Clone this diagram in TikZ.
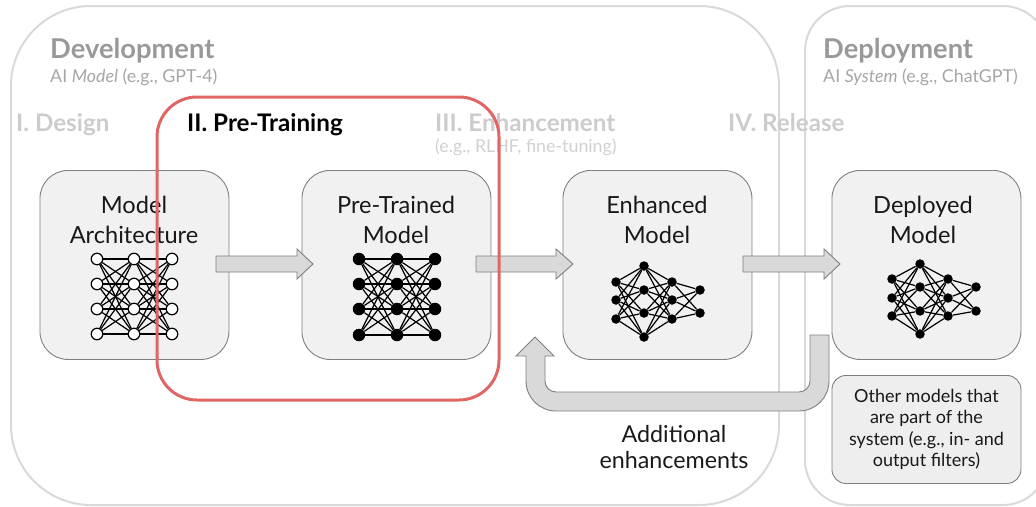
\documentclass[tikz,border=0pt]{standalone}
\usepackage{fontspec}
\setmainfont{Lato}
\definecolor{framegray}{HTML}{D9D9D9}
\definecolor{boxfill}{HTML}{F1F1F1}
\definecolor{otherfill}{HTML}{EEEEEE}
\definecolor{boxline}{HTML}{7F7F7F}
\definecolor{arrowfill}{HTML}{D9D9D9}
\definecolor{headgray}{HTML}{999999}
\definecolor{stagegray}{HTML}{CCCCCC}
\definecolor{subgray}{HTML}{A6A6A6}
\definecolor{palegray}{HTML}{D0D0D0}
\definecolor{redframe}{HTML}{E06666}
\tikzset{
  framebox/.style={draw=framegray,line width=2pt},
  modelbox/.style={draw=boxline,fill=boxfill,line width=0.9pt,rounded corners=28pt,minimum width=189pt,minimum height=189pt,inner sep=0pt,anchor=north west},
  otherbox/.style={draw=boxline,fill=otherfill,line width=0.9pt,rounded corners=14pt,minimum width=189pt,minimum height=108pt,inner sep=0pt,anchor=north west,align=center,font=\fontsize{18}{21.6}\selectfont,text=black!90},
  boxlabel/.style={align=center,font=\fontsize{23.6}{30}\selectfont,text=black!90,anchor=center},
  stagehead/.style={font=\bfseries\fontsize{24.2}{26}\selectfont,text=stagegray,anchor=base west,inner sep=0pt},
  phasehead/.style={font=\bfseries\fontsize{27.3}{30}\selectfont,text=headgray,anchor=base west,inner sep=0pt},
  subnote/.style={font=\fontsize{17.8}{20}\selectfont,text=subgray,anchor=base west,inner sep=0pt},
  blockarrow/.style={draw=boxline,fill=arrowfill,line width=0.9pt,line join=miter},
  openneuron/.style={circle,draw=black,fill=white,line width=1.2pt,minimum size=11.5pt,inner sep=0pt},
  solidneuron/.style={circle,fill=black,minimum size=12.5pt,inner sep=0pt},
  smallneuron/.style={circle,fill=black,minimum size=9.5pt,inner sep=0pt},
  synapse/.style={draw=black,line width=1.2pt},
}
\begin{document}
\begin{tikzpicture}[x=1pt,y=-1pt]
\useasboundingbox (0,0) rectangle (1036,506);
% frames
\draw[framebox,rounded corners=80pt] (11,6) rectangle (779,505);
\draw[framebox,rounded corners=45pt] (805,6) rectangle (1048,505);
% model boxes
\node[modelbox] (arch) at (39.5,170) {};
\node[modelbox] (pre) at (301.5,170) {};
\node[modelbox] (enh) at (562.5,170) {};
\node[modelbox] (dep) at (831.5,170) {};
\node[otherbox] (other) at (831.5,375) {Other models that\\are part of the\\system (e.g., in- and\\output filters)};
\node[boxlabel] (archl) at (134,219.7) {Model\\Architecture};
\node[boxlabel] (prel) at (396,219.7) {Pre-Trained\\Model};
\node[boxlabel] (enhl) at (657,219.7) {Enhanced\\Model};
\node[boxlabel] (depl) at (923,219.7) {Deployed\\Model};
% block arrows
\draw[blockarrow] (216,256) -- (297,256) -- (297,249) -- (313,264) -- (297,279) -- (297,272) -- (216,272) -- cycle;
\draw[blockarrow] (476,256) -- (556,256) -- (556,249) -- (573,264) -- (556,279) -- (556,272) -- (476,272) -- cycle;
\draw[blockarrow] (743,256) -- (824,256) -- (824,249) -- (840,264) -- (824,279) -- (824,272) -- (743,272) -- cycle;
\draw[blockarrow] (810,335) -- (829,335) -- (829,381) arc[start angle=0,end angle=90,radius=30] -- (556,411) arc[start angle=90,end angle=180,radius=30] -- (526,356) -- (516,356) -- (535,337) -- (554,356) -- (545,356) -- (545,381) arc[start angle=180,end angle=90,radius=11] -- (799,392) arc[start angle=90,end angle=0,radius=11] -- cycle;
% net 1
\foreach \c/\x in {1/97,2/134,3/172}
  \foreach \r/\y in {1/259,2/284,3/309,4/334}
    \node[openneuron] (a\c\r) at (\x,\y) {};
\foreach \c/\d in {1/2,2/3}
  \foreach \r in {1,2,3,4}
    \foreach \s in {1,2,3,4}
      \draw[synapse] (a\c\r) -- (a\d\s);
% net 2
\foreach \c/\x in {1/359,2/397,3/435}
  \foreach \r/\y in {1/259,2/284,3/309,4/335}
    \node[solidneuron] (b\c\r) at (\x,\y) {};
\foreach \c/\d in {1/2,2/3}
  \foreach \r in {1,2,3,4}
    \foreach \s in {1,2,3,4}
      \draw[synapse] (b\c\r) -- (b\d\s);
% net 3
\foreach \n/\x/\y in {c11/616/282,c12/616/300,c13/616/319,
  c21/644/266,c22/644/290,c23/644/313,c24/644/337,
  c31/672/282,c32/672/300,c33/672/319,
  c41/700/290,c42/700/313}
  \node[smallneuron] (\n) at (\x,\y) {};
\foreach \r in {1,2,3}
  \foreach \s in {1,2,3,4} {
    \draw[synapse] (c1\r) -- (c2\s);
    \draw[synapse] (c3\r) -- (c2\s);
  }
\foreach \r in {1,2,3}
  \foreach \s in {1,2}
    \draw[synapse] (c3\r) -- (c4\s);
% net 4
\foreach \n/\x/\y in {d11/892/279,d12/892/298,d13/892/316,
  d21/920/264,d22/920/287,d23/920/311,d24/920/334,
  d31/948/279,d32/948/298,d33/948/316,
  d41/976/287,d42/976/311}
  \node[smallneuron] (\n) at (\x,\y) {};
\foreach \r in {1,2,3}
  \foreach \s in {1,2,3,4} {
    \draw[synapse] (d1\r) -- (d2\s);
    \draw[synapse] (d3\r) -- (d2\s);
  }
\foreach \r in {1,2,3}
  \foreach \s in {1,2}
    \draw[synapse] (d3\r) -- (d4\s);
% texts
\node[phasehead] (devh) at (50,58.5) {Development};
\node[subnote] (devs) at (50,82) {AI \textit{Model} (e.g., GPT-4)};
\node[phasehead] (deph) at (823,58.5) {Deployment};
\node[subnote] (deps) at (823,82) {AI \textit{System} (e.g., ChatGPT)};
\node[stagehead] (s1) at (16,131.7) {I. Design};
\node[stagehead] (s3) at (435,131.7) {III. Enhancement};
\node[subnote,text=palegray] (s3n) at (435,152) {(e.g., RLHF, fine-tuning)};
\node[stagehead] (s4) at (728,131.7) {IV. Release};
\node[stagehead,text=black] (s2) at (187,131.7) {II. Pre-Training};
\node[boxlabel,font=\fontsize{23.3}{26}\selectfont] (addl) at (674,447) {Additional\\enhancements};
% red frame
\draw[draw=redframe,line width=3pt,rounded corners=40pt] (157,97) rectangle (499,400);
\end{tikzpicture}
\end{document}
